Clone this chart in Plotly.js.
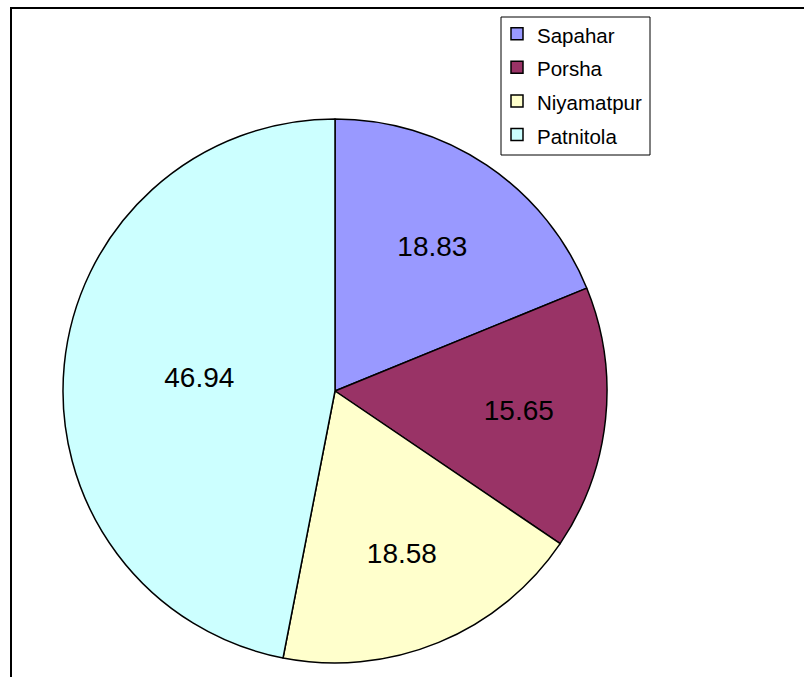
<!DOCTYPE html>
<html>
<head>
<meta charset="utf-8">
<script src="https://cdn.plot.ly/plotly-3.0.1.min.js"></script>
<style>html,body{margin:0;padding:0;background:#fff;}#chart{width:804px;height:677px;}</style>
</head>
<body>
<div id="chart"></div>
<script>
const categories = ["Sapahar", "Porsha", "Niyamatpur", "Patnitola"];
const values = [18.83, 15.65, 18.58, 46.94];
const sliceColors = ["#9999FF", "#993366", "#FFFFCC", "#CCFFFF"];

const W = 804, H = 677;
const cx = 335, cy = 391, r = 272;
const FONT = "Liberation Sans, Arial, sans-serif";

const trace = {
  type: "pie",
  labels: categories.map(c => '<span style="font-size:20.5px">' + c + '</span>'),
  values: values,
  sort: false,
  direction: "clockwise",
  rotation: 0,
  marker: { colors: sliceColors, line: { color: "#000000", width: 1.5 } },
  texttemplate: "%{value}",
  textposition: "inside",
  insidetextorientation: "horizontal",
  textfont: { family: FONT, size: 28, color: "#000000" },
  hoverinfo: "label+value",
  domain: {
    x: [(cx - r) / W, (cx + r) / W],
    y: [(H - cy - r) / H, (H - cy + r) / H]
  }
};

const layout = {
  width: W, height: H,
  margin: { l: 0, r: 0, t: 0, b: 0, pad: 0 },
  paper_bgcolor: "#ffffff",
  showlegend: true,
  legend: {
    x: 497 / W, y: 1 - 12 / H, xanchor: "left", yanchor: "top",
    bgcolor: "rgba(0,0,0,0)", borderwidth: 0,
    font: { family: FONT, size: 23.5, color: "#000000" },
    traceorder: "normal"
  },
  shapes: [
    {
      type: "rect", xref: "paper", yref: "paper",
      x0: 11 / W, x1: 1.2, y0: -0.2, y1: 1 - 8 / H,
      line: { color: "#000000", width: 2 }, fillcolor: "rgba(0,0,0,0)", layer: "below"
    },
    {
      type: "rect", xref: "paper", yref: "paper",
      x0: 501 / W, x1: 650 / W, y0: 1 - 155 / H, y1: 1 - 17 / H,
      line: { color: "#000000", width: 1 }, fillcolor: "#ffffff", layer: "above"
    }
  ]
};

Plotly.newPlot("chart", [trace], layout, { displayModeBar: false, staticPlot: true });
</script>
</body>
</html>
